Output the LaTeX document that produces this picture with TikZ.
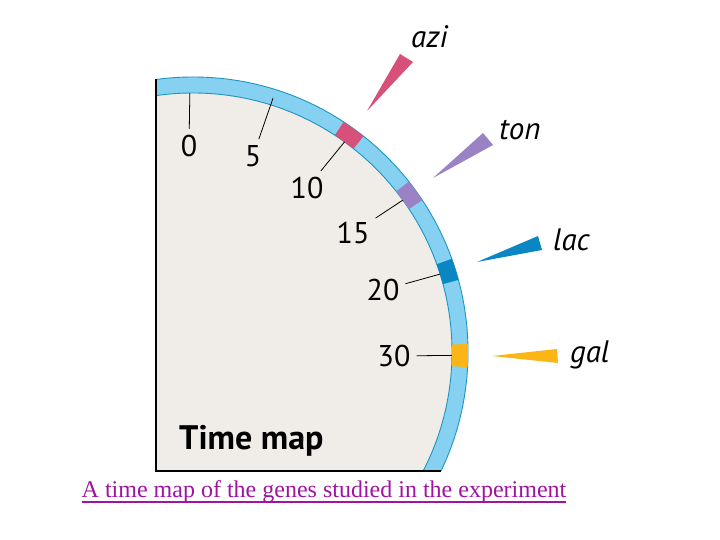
\documentclass[tikz,border=0pt]{standalone}
\usepackage{fontspec}
\newfontfamily\mapfont{PT Sans}
\newfontfamily\capfont{Liberation Serif}
\usetikzlibrary{calc, positioning}

\definecolor{mapbg}{RGB}{240,236,231}
\definecolor{bandfill}{RGB}{134,209,241}
\definecolor{bandedge}{RGB}{30,150,190}
\definecolor{azicol}{RGB}{214,80,122}
\definecolor{toncol}{RGB}{155,130,196}
\definecolor{laccol}{RGB}{10,135,195}
\definecolor{galcol}{RGB}{251,182,22}
\definecolor{capcol}{RGB}{160,20,160}

\begin{document}
\begin{tikzpicture}[
    x = 1pt, y = 1pt, % one unit per pixel
    tick/.style = {draw = black, line width = 0.8pt},
    minute/.style = {font = \mapfont\fontsize{30}{30}\selectfont, inner sep = 6pt},
    gene/.style = {font = \mapfont\itshape\fontsize{31}{31}\selectfont, anchor = base west, inner sep = 0pt}
    ]

    \tikzset{
    band/.style = {fill = bandfill},
    rim/.style = {draw = bandedge, line width = 0.9pt}
    }

    \useasboundingbox[fill = white] (0,0) rectangle (720,540);
    \coordinate (c) at (193,188);

    % cell with its band
    \begin{scope}
    \clip (156,69) rectangle (720,540);
    \fill[mapbg] (c) circle (259);
    \fill[band, even odd rule] (c) circle (275) (c) circle (259);
    \draw[rim] (c) circle (275) (c) circle (259);
    \foreach \from/\to/\col in {51.7/56.8/azicol, 33.5/38.3/toncol, 15.2/19.8/laccol, -3.15/1.65/galcol}
        \fill[\col] ($(c)+(\from:259)$) arc[start angle = \from, end angle = \to, radius = 259]
            -- ($(c)+(\to:275)$) arc[start angle = \to, end angle = \from, radius = 275] -- cycle;
    \end{scope}
    \draw[line width = 1.5pt] (156,460.5) -- (156,69) -- (441,69);

    % minutes
    \foreach \t/\ang/\rad/\pos in {0/90.7/259/{189,394}, 5/72.5/266/{253,384}, 10/54.2/259/{307,352},
        15/35.9/259/{353,307}, 20/17.5/259/{383,250}, 30/-0.75/259/{394,184}} {
        \coordinate (m\t) at ($(c)+(\ang:\rad)$);
        \node[minute] (t\t) at (\pos) {\t};
        \draw[tick] (m\t) -- (t\t);
    }

    % genes
    \fill[azicol] (367,429) -- (400,486) -- (413,478) -- cycle;
    \fill[toncol] (433,362) -- (483,407) -- (493,395) -- cycle;
    \fill[laccol] (477,278) -- (538,304) -- (542,290) -- cycle;
    \fill[galcol] (492,184) -- (557,191) -- (558,177) -- cycle;
    \node[gene] (azi) at (411,492) {azi};
    \node[gene] (ton) at (499,400) {ton};
    \node[gene] (lac) at (553,289) {lac};
    \node[gene] (gal) at (570,177) {gal};

    \node[font = \mapfont\bfseries\fontsize{34}{34}\selectfont, anchor = base west, inner sep = 0pt] (title) at (179,90) {Time map};

    \node[font = \capfont\fontsize{24}{24}\selectfont, text = capcol, anchor = base, inner sep = 0pt] (caption) at (324,42)
        {A time map of the genes studied in the experiment};
    \draw[capcol, line width = 1.2pt] ([yshift = -4pt]caption.base west) -- ([yshift = -4pt]caption.base east);

\end{tikzpicture}
\end{document}
